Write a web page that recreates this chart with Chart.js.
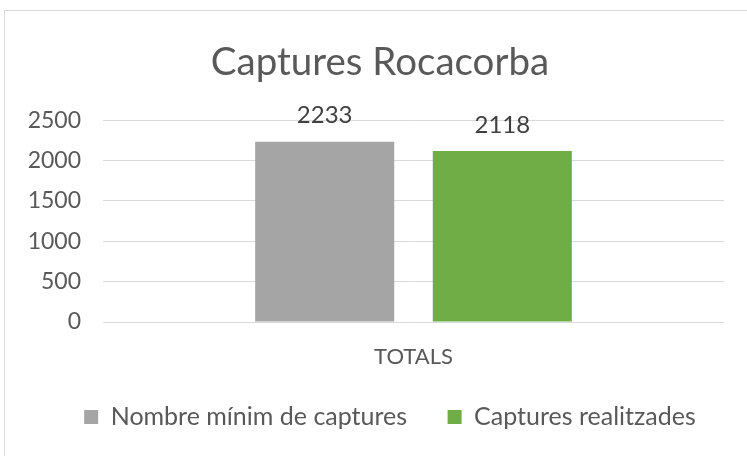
<!DOCTYPE html>
<html><head><meta charset="utf-8">
<script src="https://cdn.jsdelivr.net/npm/chart.js@4"></script>
<style>
html,body{margin:0;padding:0;background:#fff;overflow:hidden;width:747px;height:456px;}
#frame{position:absolute;left:4px;top:10px;width:800px;height:500px;border:1px solid #d9d9d9;}
canvas{position:absolute;left:0;top:0;}
</style></head><body>
<div id="frame"></div>
<canvas id="c" width="747" height="456"></canvas>
<script>
const categories = ['TOTALS'];
const seriesNames = ['Nombre mínim de captures', 'Captures realitzades'];
const minimValues = [2233];
const realitzadesValues = [2118];
const yTicks = [0, 500, 1000, 1500, 2000, 2500];
const titleText = 'Captures Rocacorba';

const FONT = 'Lato, "Open Sans", sans-serif';
const TXT = '#595959';

const dataLabels = {
  id: 'dataLabels',
  afterDatasetsDraw(chart) {
    const ctx = chart.ctx;
    ctx.save();
    ctx.font = '24px ' + FONT;
    ctx.fillStyle = '#404040';
    ctx.textAlign = 'center';
    ctx.textBaseline = 'bottom';
    chart.data.datasets.forEach((ds, di) => {
      const meta = chart.getDatasetMeta(di);
      meta.data.forEach((el, i) => {
        ctx.fillText(String(ds.data[i]), el.x, el.y - 14);
      });
    });
    ctx.restore();
  }
};

const boxShift = {
  id: 'boxShift',
  afterLayout(chart) {
    const lg = chart.legend;
    if (lg) { lg.left += 28; lg.right += 28; }
    const tb = chart.titleBlock;
    if (tb) { tb.left += 18; tb.right += 18; }
  }
};

new Chart(document.getElementById('c'), {
  type: 'bar',
  data: {
    labels: categories,
    datasets: [
      { label: seriesNames[0], data: minimValues, backgroundColor: '#A5A5A5', categoryPercentage: 0.572, barPercentage: 0.783 },
      { label: seriesNames[1], data: realitzadesValues, backgroundColor: '#70AD47', categoryPercentage: 0.572, barPercentage: 0.783 }
    ]
  },
  options: {
    responsive: false,
    animation: false,
    devicePixelRatio: 1,
    layout: { padding: { left: 0, right: 23, top: 39, bottom: 16.5 } },
    plugins: {
      title: { display: true, text: titleText, color: TXT, font: { family: FONT, size: 38.5, weight: 'normal' }, padding: { top: 0, bottom: 35 } },
      legend: {
        position: 'bottom',
        labels: { color: TXT, font: { family: FONT, size: 25 }, boxWidth: 14, boxHeight: 14, padding: 40.5 }
      },
      tooltip: { enabled: false }
    },
    scales: {
      y: {
        min: 0, max: 2500,
        afterFit(s) { s.width = 103; },
        afterBuildTicks(s) { s.ticks = yTicks.map(v => ({ value: v })); },
        ticks: { color: TXT, font: { family: FONT, size: 23 }, padding: 22, callback: v => String(v) },
        grid: { color: '#D9D9D9', drawTicks: false },
        border: { display: false }
      },
      x: {
        afterFit(s) { s.height = 42; },
        ticks: { color: TXT, font: { family: FONT, size: 22 }, padding: 14 },
        grid: { display: false },
        border: { display: false }
      }
    }
  },
  plugins: [dataLabels, boxShift]
});
</script>
</body></html>
